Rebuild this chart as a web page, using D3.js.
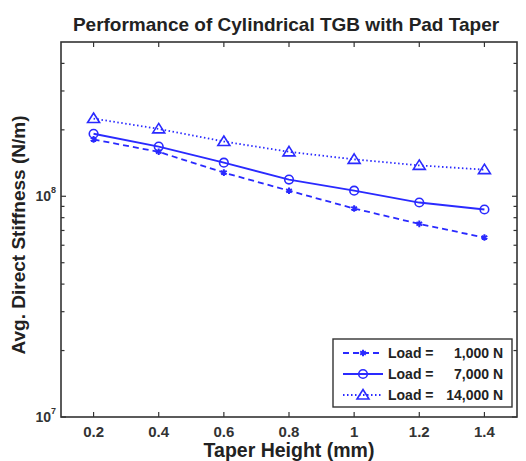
<!DOCTYPE html>
<html>
<head>
<meta charset="utf-8">
<script src="https://cdn.jsdelivr.net/npm/d3@7"></script>
<style>
html,body{margin:0;padding:0;background:#fff;}
svg{display:block;font-family:"Liberation Sans",Arial,sans-serif;}
</style>
</head>
<body>
<svg id="chart" width="526" height="461"></svg>
<script>
// ---- data ----
const taperHeight = [0.2, 0.4, 0.6, 0.8, 1.0, 1.2, 1.4];
const load1000  = [1.81e8, 1.59e8, 1.28e8, 1.06e8, 0.88e8, 0.75e8, 0.65e8];
const load7000  = [1.92e8, 1.68e8, 1.42e8, 1.19e8, 1.06e8, 0.937e8, 0.871e8];
const load14000 = [2.25e8, 2.02e8, 1.77e8, 1.59e8, 1.47e8, 1.38e8, 1.32e8];
const seriesLoads = ["1,000 N", "7,000 N", "14,000 N"];
const xTicks = [0.2, 0.4, 0.6, 0.8, 1.0, 1.2, 1.4];
const xTickLabels = ["0.2", "0.4", "0.6", "0.8", "1", "1.2", "1.4"];
const yMajorTicks = [1e7, 1e8];
const yMajorExp = ["7", "8"];
const yMinorTicks = [2e7,3e7,4e7,5e7,6e7,7e7,8e7,9e7,2e8,3e8,4e8];
const titleText = "Performance of Cylindrical TGB with Pad Taper";
const xLabelText = "Taper Height (mm)";
const yLabelText = "Avg. Direct Stiffness (N/m)";

// ---- layout ----
const L = 61, R = 517, T = 42, B = 417;
const blue = "#2a2aff";
const axisCol = "#333";

const svg = d3.select("#chart");
const x = d3.scaleLinear().domain([0.1, 1.5]).range([L, R]);
const y = d3.scaleLog().domain([1e7, 5e8]).range([B, T]);

// plot box
svg.append("rect").attr("x", L).attr("y", T).attr("width", R - L).attr("height", B - T)
  .attr("fill", "none").attr("stroke", axisCol).attr("stroke-width", 1.6);

// x ticks (bottom and top, inward)
const tk = 5;
xTicks.forEach(v => {
  const px = x(v);
  svg.append("line").attr("x1", px).attr("x2", px).attr("y1", B).attr("y2", B - tk).attr("stroke", axisCol).attr("stroke-width", 1.2);
  svg.append("line").attr("x1", px).attr("x2", px).attr("y1", T).attr("y2", T + tk).attr("stroke", axisCol).attr("stroke-width", 1.2);
});
svg.append("g").selectAll("text").data(xTicks).join("text")
  .attr("x", d => x(d)).attr("y", 437)
  .attr("text-anchor", "middle").attr("font-size", 15).attr("font-weight", "bold").attr("fill", "#333")
  .text((d, i) => xTickLabels[i]);

// y ticks
yMajorTicks.concat(yMinorTicks).forEach(v => {
  const py = y(v);
  const len = yMajorTicks.includes(v) ? 5 : 3.5;
  svg.append("line").attr("x1", L).attr("x2", L + len).attr("y1", py).attr("y2", py).attr("stroke", axisCol).attr("stroke-width", 1.2);
  svg.append("line").attr("x1", R).attr("x2", R - len).attr("y1", py).attr("y2", py).attr("stroke", axisCol).attr("stroke-width", 1.2);
});
yMajorTicks.forEach((v, i) => {
  const t = svg.append("text").attr("x", 56).attr("y", y(v) + 5)
    .attr("text-anchor", "end").attr("font-size", 14).attr("font-weight", "bold").attr("fill", "#333");
  t.append("tspan").text("10");
  t.append("tspan").attr("font-size", 9).attr("dy", -8).text(yMajorExp[i]);
});

// title & labels
svg.append("text").attr("x", 286).attr("y", 31).attr("text-anchor", "middle")
  .attr("font-size", 19).attr("font-weight", "bold").attr("fill", "#222").text(titleText);
svg.append("text").attr("x", 289).attr("y", 457).attr("text-anchor", "middle")
  .attr("font-size", 19.5).attr("font-weight", "bold").attr("fill", "#222").text(xLabelText);
svg.append("text").attr("transform", "translate(25,235) rotate(-90)").attr("text-anchor", "middle")
  .attr("font-size", 19).attr("font-weight", "bold").attr("fill", "#222").text(yLabelText);

// series
const series = [
  {vals: load1000, dash: "6,4", marker: "star"},
  {vals: load7000, dash: null, marker: "circle"},
  {vals: load14000, dash: "1.5,2.5", marker: "tri"}
];
const line = d3.line().x(d => x(d[0])).y(d => y(d[1]));

function drawMarker(g, type, cx, cy) {
  if (type === "circle") {
    g.append("circle").attr("cx", cx).attr("cy", cy).attr("r", 4.3)
      .attr("fill", "none").attr("stroke", blue).attr("stroke-width", 1.6);
  } else if (type === "tri") {
    g.append("path").attr("d", `M${cx},${cy - 5.5} L${cx + 6},${cy + 4} L${cx - 6},${cy + 4} Z`)
      .attr("fill", "none").attr("stroke", blue).attr("stroke-width", 1.6);
  } else {
    g.append("path").attr("transform", `translate(${cx},${cy})`)
      .attr("d", d3.symbol().type(d3.symbolAsterisk).size(30)())
      .attr("fill", "none").attr("stroke", blue).attr("stroke-width", 2);
  }
}

series.forEach(s => {
  const pts = taperHeight.map((t, i) => [t, s.vals[i]]);
  const p = svg.append("path").attr("d", line(pts)).attr("fill", "none")
    .attr("stroke", blue).attr("stroke-width", 1.8);
  if (s.dash) p.attr("stroke-dasharray", s.dash);
  const g = svg.append("g");
  pts.forEach(d => drawMarker(g, s.marker, x(d[0]), y(d[1])));
});

// legend
const lg = svg.append("g");
lg.append("rect").attr("x", 333).attr("y", 339).attr("width", 179).attr("height", 68)
  .attr("fill", "#fff").attr("stroke", axisCol).attr("stroke-width", 1.4);
series.forEach((s, i) => {
  const ly = 353 + i * 21;
  const l = lg.append("line").attr("x1", 343).attr("x2", 383).attr("y1", ly).attr("y2", ly)
    .attr("stroke", blue).attr("stroke-width", 1.8);
  if (s.dash) l.attr("stroke-dasharray", s.dash);
  drawMarker(lg, s.marker, 363, ly);
  lg.append("text").attr("x", 388).attr("y", ly + 5).attr("font-size", 14)
    .attr("font-weight", "bold").attr("fill", "#222").text("Load =");
  lg.append("text").attr("x", 503).attr("y", ly + 5).attr("text-anchor", "end").attr("font-size", 14)
    .attr("font-weight", "bold").attr("fill", "#222").text(seriesLoads[i]);
});
</script>
</body>
</html>
